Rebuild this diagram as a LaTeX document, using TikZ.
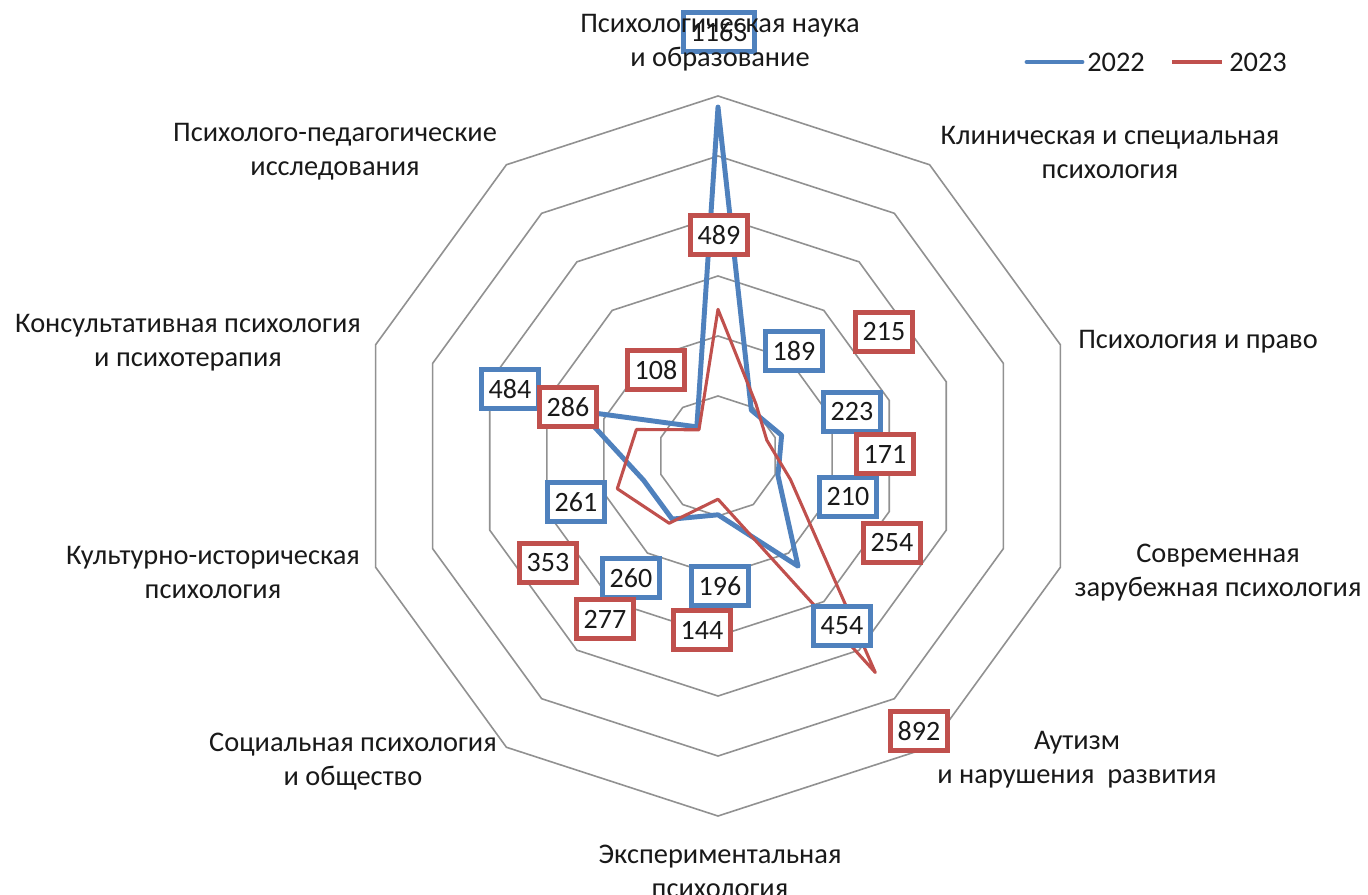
\documentclass[tikz,border=0pt]{standalone}
\usepackage{fontspec}
\setmainfont{Carlito}
\definecolor{c22}{RGB}{79,129,189}
\definecolor{c23}{RGB}{192,80,77}
\definecolor{gridgray}{RGB}{145,145,145}
\definecolor{txt}{RGB}{25,25,25}
\begin{document}
\begin{tikzpicture}[x=0.75pt,y=-0.75pt,
  gridring/.style={draw=gridgray, line width=1.2pt},
  s22/.style={draw=c22, line width=3.7pt, line join=round},
  s23/.style={draw=c23, line width=2.3pt, line join=round},
  lab22/.style={draw=c22, fill=white, line width=3.5pt, text=txt,
    font=\fontsize{21}{25}\selectfont, inner xsep=5.5pt, inner ysep=0pt,
    minimum height=29.5pt},
  lab23/.style={lab22, draw=c23},
  cat/.style={align=center, text=txt, font=\fontsize{21.3}{25.5}\selectfont},
  legtext/.style={anchor=west, text=txt, font=\fontsize{21.3}{25}\selectfont, inner sep=0pt}
]
\useasboundingbox[fill=white] (0,0) rectangle (1368,895);
% grid rings
\foreach \r in {60,120,180,240,300,360}{
  \draw[gridring] (718,{456-\r})
    \foreach \k in {1,...,9}{ -- ({718+\r*sin(36*\k)},{456-\r*cos(36*\k)}) } -- cycle;
}
% data points
\foreach \v [count=\k from 0] in {1163,189,223,210,454,196,260,261,484,120}
  \coordinate (b\k) at ({718+0.3*\v*sin(36*\k)},{456-0.3*\v*cos(36*\k)});
\foreach \v [count=\k from 0] in {489,215,171,254,892,144,277,353,286,108}
  \coordinate (r\k) at ({718+0.3*\v*sin(36*\k)},{456-0.3*\v*cos(36*\k)});
\draw[s22] (b0) -- (b1) -- (b2) -- (b3) -- (b4) -- (b5) -- (b6) -- (b7) -- (b8) -- (b9) -- cycle;
\draw[s23] (r0) -- (r1) -- (r2) -- (r3) -- (r4) -- (r5) -- (r6) -- (r7) -- (r8) -- (r9) -- cycle;
% data labels 2022
\node[lab22] (v22a) at (719,32) {1163};
\node[lab22] (v22b) at (794,351) {189};
\node[lab22] (v22c) at (852,412) {223};
\node[lab22] (v22d) at (848,497) {210};
\node[lab22] (v22e) at (842,626) {454};
\node[lab22] (v22f) at (720,586) {196};
\node[lab22] (v22g) at (631,578) {260};
\node[lab22] (v22h) at (576,502) {261};
\node[lab22] (v22i) at (510,389) {484};
% data labels 2023
\node[lab23] (v23a) at (719,235) {489};
\node[lab23] (v23b) at (884,332) {215};
\node[lab23] (v23c) at (885,454) {171};
\node[lab23] (v23d) at (892,543) {254};
\node[lab23] (v23e) at (919,731) {892};
\node[lab23] (v23f) at (702,630) {144};
\node[lab23] (v23g) at (605,619) {277};
\node[lab23] (v23h) at (548,563) {353};
\node[lab23] (v23i) at (568,407) {286};
\node[lab23] (v23j) at (656,370) {108};
% category labels
\node[cat] (c0) at (720,43) {Психологическая наука\\и образование};
\node[cat] (c1) at (1110,152) {Клиническая и специальная\\психология};
\node[cat] (c2) at (1198,342) {Психология и право};
\node[cat] (c3) at (1218,573) {Современная\\зарубежная психология};
\node[cat] (c4) at (1077,760) {Аутизм\\и нарушения\ \ развития};
\node[cat] (c5) at (720,871) {Экспериментальная\\психология};
\node[cat] (c6) at (353,762) {Социальная психология\\и общество};
\node[cat] (c7) at (213,572) {Культурно-историческая\\психология};
\node[cat] (c8) at (188,343) {Консультативная психология\\и психотерапия};
\node[cat] (c9) at (335,152) {Психолого-педагогические\\исследования};
% legend
\coordinate (l22a) at (1027,62);
\coordinate (l22b) at (1082,62);
\coordinate (l23a) at (1172,62);
\coordinate (l23b) at (1222,62);
\draw[s22, line cap=round] (l22a) -- (l22b);
\draw[s23, line width=2.8pt] (l23a) -- (l23b);
\node[legtext] (t22) at (1087,62) {2022};
\node[legtext] (t23) at (1229,62) {2023};
\end{tikzpicture}
\end{document}
